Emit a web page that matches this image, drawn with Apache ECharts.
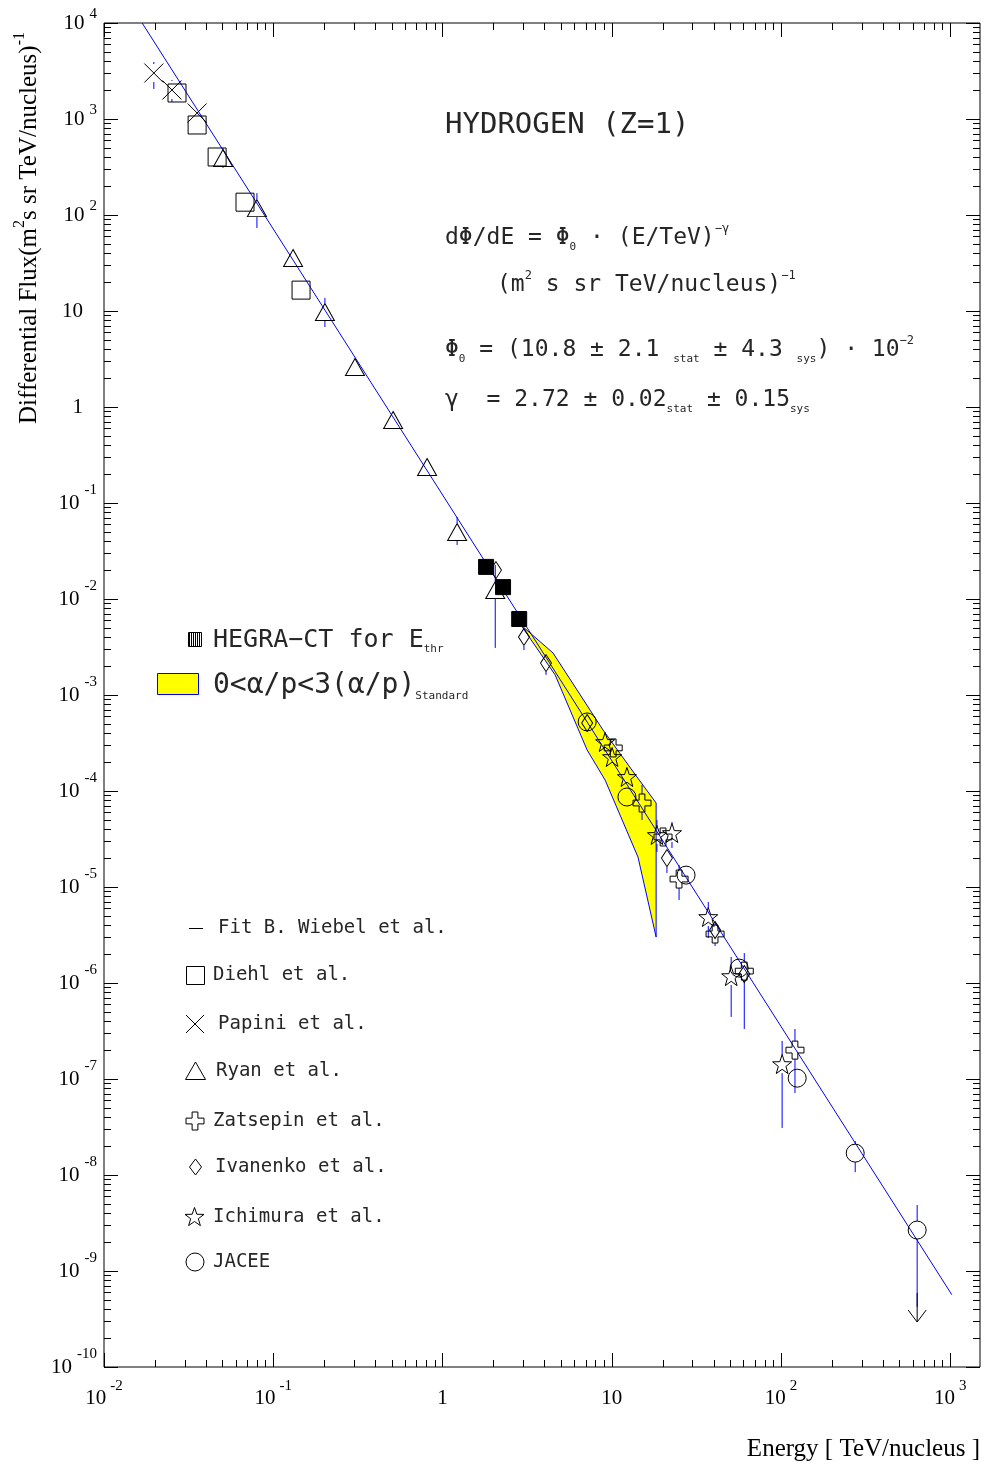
<!DOCTYPE html>
<html>
<head>
<meta charset="utf-8">
<script src="https://cdn.jsdelivr.net/npm/echarts@6/dist/echarts.min.js"></script>
<style>
html, body { margin: 0; padding: 0; background: #fff; }
#chart { width: 985px; height: 1466px; }
</style>
</head>
<body>
<div id="chart"></div>
<script>
// E in TeV/nucleus, flux in (m^2 s sr TeV/nucleus)^-1
const fitE = [0.0168, 1023];
const fitF = [1.0e4, 5.65e-10];

const diehlE = [0.0270, 0.0355, 0.0466, 0.0681, 0.146];
const diehlF = [1866, 866, 402, 136, 16.5];

const papiniE = [0.0197, 0.0252, 0.0355];
const papiniF = [3013, 2005, 1155];
const papiniLo = [2054, 1503, null];
const papiniHi = [3926, 2548, null];

const ryanE = [0.0505, 0.0801, 0.131, 0.202, 0.304, 0.511, 0.811, 1.22, 2.05];
const ryanF = [392, 118, 35.6, 9.77, 2.61, 0.733, 0.237, 0.0499, 0.0124];
const ryanLo = [309, 73.2, null, 6.81, null, null, null, 0.0365, 0.00309];
const ryanHi = [499, 169, null, 13.7, null, null, null, 0.0715, 0.0226];

const hegraE = [1.81, 2.28, 2.84];
const hegraF = [0.0216, 0.0133, 0.00619];

const ivanenkoE = [2.07, 3.03, 4.09, 7.16, 21.2, 40.8, 60.7];
const ivanenkoF = [0.0200, 0.00402, 0.00215, 5.11e-4, 2.0e-5, 3.56e-6, 1.24e-6];
const ivanenkoLo = [null, 0.00294, 0.00162, null, 1.40e-5, null, null];
const ivanenkoHi = [null, 0.00402, 0.00215, null, 2.0e-5, null, null];

const zatsepinE = [10.2, 15.1, 20.1, 25.0, 40.8, 60.7, 121];
const zatsepinF = [2.81e-4, 7.50e-5, 3.32e-5, 1.21e-5, 3.24e-6, 1.33e-6, 2.0e-7];
const zatsepinLo = [null, 4.99e-5, null, 7.32e-6, 2.43e-6, 3.32e-7, 7.15e-8];
const zatsepinHi = [null, 1.155e-4, null, 1.69e-5, 4.12e-6, 2.05e-6, 3.32e-7];

const ichimuraE = [9.14, 10.05, 12.3, 18.5, 22.7, 37.2, 50.8, 101.6];
const ichimuraF = [3.24e-4, 2.26e-4, 1.40e-4, 3.48e-5, 3.65e-5, 4.87e-6, 1.18e-6, 1.43e-7];
const ichimuraLo = [null, null, null, 2.32e-5, 2.55e-5, 2.94e-6, 4.43e-7, 3.09e-8];
const ichimuraHi = [null, null, null, 4.99e-5, 4.75e-5, 6.98e-6, 1.87e-6, 2.49e-7];

const jaceeE = [7.16, 12.3, 27.5, 56.6, 124.7, 274.6, 638];
const jaceeF = [5.24e-4, 8.66e-5, 1.33e-5, 1.43e-6, 1.02e-7, 1.69e-8, 2.67e-9];
const jaceeLo = [null, null, null, null, null, 1.07e-8, 4.22e-10];
const jaceeHi = [null, null, null, null, null, 2.26e-8, 4.87e-9];

// upper-limit arrow on the last JACEE point: [E, from, to]
const arrowE = [638];
const arrowFrom = [5.9e-10];
const arrowTo = [2.94e-10];

// yellow band 0 < alpha/p < 3 (alpha/p)standard, closed outline
const bandE = [2.91, 4.50, 8.89, 14.1, 18.3, 18.3, 14.3, 9.14, 7.16, 4.63, 2.99];
const bandF = [5.36e-3, 2.74e-3, 4.31e-4, 1.40e-4, 7.50e-5, 3.01e-6, 2.05e-5, 1.30e-4, 2.67e-4, 1.62e-3, 4.99e-3];

// axes
const X_MIN = 0.01, X_MAX = 1500, Y_MIN = 1e-10, Y_MAX = 1e4;
const xTickVals = [0.01, 0.1, 1, 10, 100, 1000];
const xTickBase = ['10', '10', '1', '10', '10', '10'];
const xTickExp = ['-2', '-1', '', '', '2', '3'];
const yTickVals = [1e4, 1e3, 1e2, 10, 1, 0.1, 1e-2, 1e-3, 1e-4, 1e-5, 1e-6, 1e-7, 1e-8, 1e-9, 1e-10];
const yTickBase = ['10', '10', '10', '10', '1', '10', '10', '10', '10', '10', '10', '10', '10', '10', '10'];
const yTickExp = ['4', '3', '2', '', '', '-1', '-2', '-3', '-4', '-5', '-6', '-7', '-8', '-9', '-10'];

const BLUE = '#0000ff';
const MONO = '"DejaVu Sans Mono", monospace';
const SERIF = '"Liberation Serif", "Times New Roman", serif';
const BASE_FONT = '21px ' + SERIF;
const EXP_FONT = '15px ' + SERIF;

const SYM_X = 'path://M0,0L10,10M10,0L0,10';
const SYM_CROSS = 'path://M34,0H66V34H100V66H66V100H34V66H0V34H34Z';
const SYM_STAR = 'path://M50,0L61.76,33.82L97.55,34.55L69.02,56.18L79.39,90.45L50,70L20.61,90.45L30.98,56.18L2.45,34.55L38.24,33.82Z';

function pts(E, F) { return E.map((e, i) => [e, F[i]]); }

// error bar items [E, F, lo, hi]
const errData = [];
[[papiniE, papiniF, papiniLo, papiniHi], [ryanE, ryanF, ryanLo, ryanHi],
 [ivanenkoE, ivanenkoF, ivanenkoLo, ivanenkoHi], [zatsepinE, zatsepinF, zatsepinLo, zatsepinHi],
 [ichimuraE, ichimuraF, ichimuraLo, ichimuraHi], [jaceeE, jaceeF, jaceeLo, jaceeHi]].forEach(s => {
    s[0].forEach((e, i) => { if (s[2][i] != null) errData.push([e, s[1][i], s[2][i], s[3][i]]); });
});

const measureCtx = document.createElement('canvas').getContext('2d');
function textW(s, font) { measureCtx.font = font; return measureCtx.measureText(s).width; }
function plainText(x, y, s, font, align) {
    return { type: 'text', x: x, y: y, style: { text: s, font: font, fill: '#000', align: align, verticalAlign: 'middle', textAlign: align, textVerticalAlign: 'middle' } };
}

function renderFrame(params, api) {
    const kids = [];
    const p0 = api.coord([X_MIN, Y_MIN]), p1 = api.coord([X_MAX, Y_MAX]);
    const left = p0[0], bottom = p0[1], right = p1[0], top = p1[1];
    const seg = (a, b, c, d) => kids.push({ type: 'line', shape: { x1: a, y1: b, x2: c, y2: d }, style: { stroke: '#000', lineWidth: 1 } });
    const addX = (v, len) => { const x = Math.round(api.coord([v, Y_MIN])[0]) + 0.5; seg(x, bottom, x, bottom - len); seg(x, top, x, top + len); };
    const addY = (v, len) => { const y = Math.round(api.coord([X_MIN, v])[1]) + 0.5; seg(left, y, left + len, y); seg(right, y, right - len, y); };
    xTickVals.forEach((v, i) => {
        addX(v, 14);
        for (let m = 2; m <= 9; m++) if (v * m <= X_MAX) addX(v * m, 7);
        const x = api.coord([v, Y_MIN])[0];
        const bw = textW(xTickBase[i], BASE_FONT);
        const ew = xTickExp[i] ? textW(xTickExp[i], EXP_FONT) + 4 : 0;
        const start = x - (bw + ew) / 2;
        kids.push(plainText(start, bottom + 31, xTickBase[i], BASE_FONT, 'left'));
        if (xTickExp[i]) kids.push(plainText(start + bw + 4, bottom + 19, xTickExp[i], EXP_FONT, 'left'));
    });
    yTickVals.forEach((v, i) => {
        addY(v, 14);
        if (v < Y_MAX) for (let m = 2; m <= 9; m++) addY(v * m, 7);
        const y = api.coord([X_MIN, v])[1];
        const e = yTickExp[i];
        if (e) {
            const ew = textW(e, EXP_FONT);
            kids.push(plainText(97, y - (e.charAt(0) === '-' ? 13 : 9), e, EXP_FONT, 'right'));
            kids.push(plainText(97 - ew - 5, y, yTickBase[i], BASE_FONT, 'right'));
        } else {
            kids.push(plainText(83, y, yTickBase[i], BASE_FONT, 'right'));
        }
    });
    return { type: 'group', children: kids };
}

function renderBand(params, api) {
    const points = bandE.map((e, i) => api.coord([e, bandF[i]]));
    return { type: 'polygon', shape: { points: points }, style: { fill: '#ffff00', stroke: BLUE, lineWidth: 1 } };
}

function renderErr(params, api) {
    const e = api.value(0);
    const c = api.coord([e, api.value(1)]);
    const lo = api.coord([e, api.value(2)]);
    const hi = api.coord([e, api.value(3)]);
    const gap = 9, kids = [];
    const st = { stroke: BLUE, lineWidth: 1 };
    if (hi[1] < c[1] - gap) kids.push({ type: 'line', shape: { x1: c[0], y1: hi[1], x2: c[0], y2: c[1] - gap }, style: st });
    if (lo[1] > c[1] + gap) kids.push({ type: 'line', shape: { x1: c[0], y1: c[1] + gap, x2: c[0], y2: lo[1] }, style: st });
    return { type: 'group', children: kids };
}

function renderArrow(params, api) {
    const a = api.coord([api.value(0), api.value(1)]);
    const b = api.coord([api.value(0), api.value(2)]);
    const st = { stroke: '#000', lineWidth: 1, fill: 'none' };
    return { type: 'group', children: [
        { type: 'line', shape: { x1: a[0], y1: a[1], x2: b[0], y2: b[1] }, style: st },
        { type: 'polyline', shape: { points: [[b[0] - 9, b[1] - 12], [b[0], b[1]], [b[0] + 9, b[1] - 12]] }, style: st }
    ] };
}

function markers(name, E, F, symbol, size) {
    return { name: name, type: 'scatter', data: pts(E, F), symbol: symbol, symbolSize: size, z: 5, silent: true,
        itemStyle: { color: 'transparent', borderColor: '#000', borderWidth: 1, opacity: 1 } };
}

// legend icons drawn as plain shapes
const legendY = [928, 975, 1024, 1071, 1121, 1167, 1217, 1262];
const legendNames = ['Fit B. Wiebel et al.', 'Diehl et al.', 'Papini et al.', 'Ryan et al.',
    'Zatsepin et al.', 'Ivanenko et al.', 'Ichimura et al.', 'JACEE'];
const legendTextX = [218, 213, 218, 216, 213, 215, 213, 213];
const ink = { stroke: '#000', lineWidth: 1, fill: 'none' };
function starPts(cx, cy, r) {
    const p = [];
    for (let k = 0; k < 10; k++) {
        const ang = -Math.PI / 2 + k * Math.PI / 5, rr = k % 2 ? r * 0.4 : r;
        p.push([cx + rr * Math.cos(ang), cy + rr * Math.sin(ang)]);
    }
    return p;
}
function crossPts(cx, cy, h) {
    const a = h * 0.32;
    return [[cx - a, cy - h], [cx + a, cy - h], [cx + a, cy - a], [cx + h, cy - a], [cx + h, cy + a], [cx + a, cy + a],
        [cx + a, cy + h], [cx - a, cy + h], [cx - a, cy + a], [cx - h, cy + a], [cx - h, cy - a], [cx - a, cy - a]];
}
const legendIcons = [
    { type: 'line', shape: { x1: 189, y1: 928.5, x2: 203, y2: 928.5 }, style: ink },
    { type: 'rect', shape: { x: 186.5, y: 966.5, width: 18, height: 18 }, style: ink },
    { type: 'group', children: [
        { type: 'line', shape: { x1: 186, y1: 1015, x2: 204, y2: 1033 }, style: ink },
        { type: 'line', shape: { x1: 204, y1: 1015, x2: 186, y2: 1033 }, style: ink }] },
    { type: 'polygon', shape: { points: [[185.5, 1079.5], [205.5, 1079.5], [195.5, 1062]] }, style: ink },
    { type: 'polygon', shape: { points: crossPts(195, 1121, 9) }, style: ink },
    { type: 'polygon', shape: { points: [[195.5, 1159], [201.5, 1167], [195.5, 1175], [189.5, 1167]] }, style: ink },
    { type: 'polygon', shape: { points: starPts(194.5, 1217.5, 10) }, style: ink },
    { type: 'circle', shape: { cx: 195, cy: 1262, r: 9 }, style: ink }
];

const hegraStripes = [];
for (let k = 0; k < 7; k++) hegraStripes.push({ type: 'line', shape: { x1: 189.5 + k * 2, y1: 633, x2: 189.5 + k * 2, y2: 646 }, style: { stroke: '#000', lineWidth: 1 } });

const INK = '#262626';
const eqRich = {
    n: { fontFamily: MONO, fontSize: 23, lineHeight: 30, verticalAlign: 'middle', fill: INK },
    sub: { fontFamily: MONO, fontSize: 11, lineHeight: 12, verticalAlign: 'bottom', fill: INK },
    sup: { fontFamily: MONO, fontSize: 12, lineHeight: 12, verticalAlign: 'top', fill: INK }
};
function txt(x, y, text, rich, extra) {
    return Object.assign({ type: 'text', x: x, y: y, style: { text: text, rich: rich, align: 'left', verticalAlign: 'middle', textAlign: 'left', textVerticalAlign: 'middle', fill: INK } }, extra || {});
}

const yTitle = txt(27, 228, '{t|Differential Flux(m}{s|2}{t|s sr TeV/nucleus)}{s|-1}', {
    t: { fontFamily: SERIF, fontSize: 25, lineHeight: 30, verticalAlign: 'bottom', fill: '#000' },
    s: { fontFamily: SERIF, fontSize: 16, lineHeight: 14, verticalAlign: 'top', fill: '#000' }
}, { rotation: Math.PI / 2 });
yTitle.style.align = 'center'; yTitle.style.textAlign = 'center';

const graphics = [
    txt(445, 125, '{h|HYDROGEN (Z=1)}', { h: { fontFamily: MONO, fontSize: 29, fill: INK } }),
    txt(445, 238, '{n|dΦ/dE = Φ}{sub|0}{n| · (E/TeV)}{sup|−γ}', eqRich),
    txt(497, 285, '{n|(m}{sup|2}{n| s sr TeV/nucleus)}{sup|−1}', eqRich),
    txt(445, 350, '{n|Φ}{sub|0}{n| = (10.8 ± 2.1 }{sub|stat}{n| ± 4.3 }{sub|sys}{n|) · 10}{sup|−2}', eqRich),
    txt(445, 400, '{n|γ  = 2.72 ± 0.02}{sub|stat}{n| ± 0.15}{sub|sys}', eqRich),
    { type: 'group', children: [{ type: 'rect', shape: { x: 188.5, y: 632.5, width: 13, height: 14 }, style: ink }].concat(hegraStripes) },
    txt(213, 640, '{n|HEGRA−CT for E}{sub|thr}', { n: { fontFamily: MONO, fontSize: 25, lineHeight: 30, verticalAlign: 'middle', fill: INK }, sub: eqRich.sub }),
    { type: 'rect', shape: { x: 157.5, y: 673.5, width: 41, height: 21 }, style: { fill: '#ffff00', stroke: BLUE, lineWidth: 1 } },
    txt(213, 686, '{n|0<α/p<3(α/p)}{sub|Standard}', { n: { fontFamily: MONO, fontSize: 28, lineHeight: 32, verticalAlign: 'middle', fill: INK }, sub: eqRich.sub }),
    yTitle,
    { type: 'text', x: 980, y: 1449, style: { text: 'Energy [ TeV/nucleus ]', font: '25px ' + SERIF, fill: '#000', align: 'right', verticalAlign: 'middle', textAlign: 'right', textVerticalAlign: 'middle' } }
].concat(legendIcons).concat(legendNames.map((n, i) => txt(legendTextX[i], legendY[i], '{l|' + n + '}', { l: { fontFamily: MONO, fontSize: 19, fill: INK } })));

const chart = echarts.init(document.getElementById('chart'));
chart.setOption({
    animation: false,
    backgroundColor: '#fff',
    grid: { left: 104, top: 23, width: 876, height: 1344, show: true, borderColor: '#000', borderWidth: 1, backgroundColor: 'transparent' },
    xAxis: { type: 'log', logBase: 10, min: X_MIN, max: X_MAX,
        axisLine: { show: false }, axisTick: { show: false }, axisLabel: { show: false }, splitLine: { show: false } },
    yAxis: { type: 'log', logBase: 10, min: Y_MIN, max: Y_MAX,
        axisLine: { show: false }, axisTick: { show: false }, axisLabel: { show: false }, splitLine: { show: false } },
    graphic: graphics,
    series: [
        { type: 'custom', name: 'frame', data: [[1, 1]], renderItem: renderFrame, silent: true, z: 1 },
        { type: 'custom', name: 'band', data: [[bandE[0], bandF[0]]], renderItem: renderBand, silent: true, z: 2 },
        { type: 'line', name: 'Fit', data: pts(fitE, fitF), showSymbol: false, symbol: 'none', silent: true, z: 3,
          lineStyle: { color: BLUE, width: 1 } },
        { type: 'custom', name: 'errors', data: errData, renderItem: renderErr, silent: true, z: 4 },
        { type: 'custom', name: 'limit', data: arrowE.map((e, i) => [e, arrowFrom[i], arrowTo[i]]), renderItem: renderArrow, silent: true, z: 4 },
        markers('Diehl', diehlE, diehlF, 'rect', 18),
        markers('Papini', papiniE, papiniF, SYM_X, 19),
        markers('Ryan', ryanE, ryanF, 'triangle', [19, 17]),
        markers('Zatsepin', zatsepinE, zatsepinF, SYM_CROSS, 18),
        markers('Ivanenko', ivanenkoE, ivanenkoF, 'diamond', [11, 17]),
        markers('Ichimura', ichimuraE, ichimuraF, SYM_STAR, 19),
        markers('JACEE', jaceeE, jaceeF, 'circle', 18),
        { name: 'HEGRA', type: 'scatter', data: pts(hegraE, hegraF), symbol: 'rect', symbolSize: 15, z: 6, silent: true,
          itemStyle: { color: '#000', borderColor: '#000', borderWidth: 1, opacity: 1 } }
    ]
});
</script>
</body>
</html>
